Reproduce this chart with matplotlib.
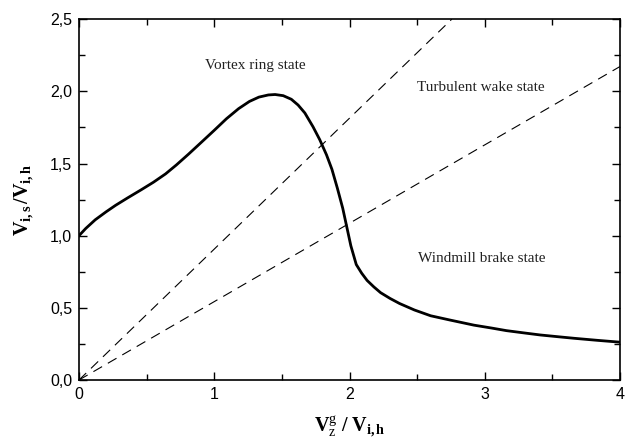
import matplotlib
matplotlib.use("Agg")
import matplotlib.pyplot as plt
from matplotlib.ticker import MultipleLocator, FuncFormatter

# Data
curve_x = [0.0, 0.05, 0.12, 0.2, 0.27, 0.36, 0.46, 0.55, 0.64, 0.72, 0.81, 0.9,
           1.0, 1.09, 1.18, 1.26, 1.33, 1.40, 1.45, 1.51, 1.57, 1.62, 1.67, 1.73,
           1.78, 1.83, 1.87, 1.91, 1.95, 1.98, 2.01, 2.05, 2.09, 2.13, 2.18, 2.23,
           2.30, 2.37, 2.48, 2.6, 2.74, 2.92, 3.05, 3.16, 3.3, 3.41, 3.55, 3.66,
           3.83, 4.0]
curve_y = [1.0, 1.05, 1.11, 1.165, 1.21, 1.262, 1.318, 1.37, 1.428, 1.49, 1.565, 1.643,
           1.73, 1.81, 1.88, 1.93, 1.96, 1.975, 1.978, 1.97, 1.945, 1.905, 1.85, 1.755,
           1.665, 1.56, 1.46, 1.33, 1.19, 1.06, 0.93, 0.80, 0.74, 0.69, 0.645, 0.605,
           0.565, 0.53, 0.485, 0.445, 0.416, 0.38, 0.36, 0.342, 0.325, 0.312, 0.299, 0.289,
           0.275, 0.262]
line_slopes = [0.907, 0.543]
labels = ["Vortex ring state", "Turbulent wake state", "Windmill brake state"]
label_x = [1.30, 2.97, 2.98]
label_y = [2.18, 2.03, 0.84]

plt.rcParams['mathtext.fontset'] = 'custom'
plt.rcParams['mathtext.rm'] = 'Liberation Serif'
plt.rcParams['mathtext.bf'] = 'Liberation Serif:bold'
plt.rcParams['mathtext.it'] = 'Liberation Serif:italic'

fig = plt.figure(figsize=(6.25, 4.46), dpi=100)
ax = fig.add_axes([0.1264, 0.148, 0.8656, 0.809])

ax.plot(curve_x, curve_y, color='black', lw=2.0, solid_joinstyle='round')
for s in line_slopes:
    ax.axline((0, 0), slope=s, color='black', lw=0.8, dashes=(9, 6))

for t, x, y in zip(labels, label_x, label_y):
    ax.text(x, y, t, ha='center', va='center', fontsize=11,
            family='Liberation Serif', color='#222222')

ax.set_xlim(0, 4)
ax.set_ylim(0, 2.5)
ax.xaxis.set_major_locator(MultipleLocator(1))
ax.xaxis.set_minor_locator(MultipleLocator(0.5))
ax.yaxis.set_major_locator(MultipleLocator(0.5))
ax.yaxis.set_minor_locator(MultipleLocator(0.25))
ax.yaxis.set_major_formatter(FuncFormatter(lambda v, p: f"{v:.1f}".replace('.', ',')))
ax.xaxis.set_major_formatter(FuncFormatter(lambda v, p: f"{v:.0f}"))
ax.tick_params(which='both', direction='in', top=True, right=True, width=1.0,
               labelsize=11.5, pad=5)
ax.tick_params(which='major', length=6)
ax.tick_params(which='minor', length=4)
for lab in ax.get_xticklabels() + ax.get_yticklabels():
    lab.set_family('Liberation Sans')
for sp in ax.spines.values():
    sp.set_linewidth(1.2)

ax.set_xlabel(r'$\mathbf{V}_\mathrm{z}^\mathrm{g}\ \mathbf{/\ V_{i,h}}$', fontsize=14.5, labelpad=9)
ax.set_ylabel(r'$\mathbf{V_{i,s}\,/V_{i,h}}$', fontsize=14.5, labelpad=10)

fig.savefig("out.png", dpi=100)
